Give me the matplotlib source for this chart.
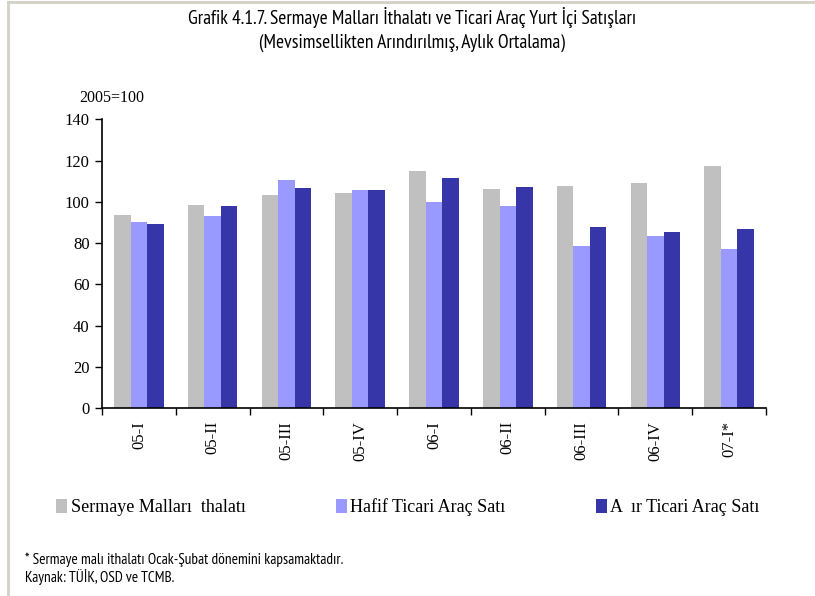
import matplotlib
matplotlib.use("Agg")
import matplotlib.pyplot as plt
from matplotlib import font_manager as fm
from matplotlib.patches import Patch
from matplotlib.lines import Line2D
import numpy as np

categories = ["05-I", "05-II", "05-III", "05-IV", "06-I", "06-II", "06-III", "06-IV", "07-I*"]
sermaye = [93.6, 98.5, 103.3, 104.3, 115.0, 106.3, 107.7, 109.2, 117.4]
hafif = [90.3, 93.2, 110.6, 105.8, 100.0, 98.0, 78.6, 83.5, 77.1]
agir = [89.3, 98.0, 106.7, 105.8, 111.6, 107.2, 87.8, 85.4, 86.9]
series_names = ["Sermaye Malları  thalatı", "Hafif Ticari Araç Satı", "A  ır Ticari Araç Satı"]
colors = ["#c0c0c0", "#9999ff", "#3636a8"]
yticks = [0, 20, 40, 60, 80, 100, 120, 140]

names = {f.name for f in fm.fontManager.ttflist}
narrow = "Liberation Sans"
for cand in ["Liberation Sans Narrow", "Arial Narrow", "PT Sans Narrow", "Archivo Narrow",
             "Roboto Condensed", "Asap Condensed"]:
    if cand in names:
        narrow = cand
        break
serif = "Liberation Serif"

fig = plt.figure(figsize=(8.15, 5.96), dpi=100)
ax = fig.add_axes([102/815, 1-408.3/596, (766-102)/815, (408.3-119.3)/596])

x = np.arange(len(categories))
w = 0.224
for i, (vals, c) in enumerate(zip([sermaye, hafif, agir], colors)):
    ax.bar(x + (i-1)*w, vals, width=w, color=c, edgecolor="none", label=series_names[i])

ax.set_xlim(-0.5, len(categories)-0.5)
ax.set_ylim(0, 140)
ax.set_yticks(yticks)
ax.set_yticklabels([str(t) for t in yticks], fontfamily=serif, fontsize=12)
ax.set_xticks(np.arange(-0.5, len(categories), 1.0))
ax.set_xticklabels([])
ax.set_xticks(x, minor=True)
ax.set_xticklabels(categories, minor=True, rotation=90, fontfamily=serif, fontsize=12, va="top")
ax.tick_params(axis="x", which="minor", length=0, pad=9)
ax.tick_params(axis="x", which="major", length=5, direction="out", width=1)
ax.tick_params(axis="y", length=5, direction="out", width=1, pad=4)
for s in ["top", "right"]:
    ax.spines[s].set_visible(False)
for s in ["left", "bottom"]:
    ax.spines[s].set_linewidth(1.2)

fig.text(112/815, 1-98/596, "2005=100", fontfamily=serif, fontsize=11.5, ha="center", va="center")

fig.text(412/815, 1-17/596, "Grafik 4.1.7. Sermaye Malları İthalatı ve Ticari Araç Yurt İçi Satışları",
         fontfamily=narrow, fontsize=14, ha="center", va="center")
fig.text(412/815, 1-43/596, "(Mevsimsellikten Arındırılmış, Aylık Ortalama)",
         fontfamily=narrow, fontsize=14, ha="center", va="center")

handles = [Patch(facecolor=c, edgecolor="none") for c in colors]
fig.legend(handles, series_names, loc="center", bbox_to_anchor=(408/815, 1-507/596), ncol=3,
           frameon=False, prop={"family": serif, "size": 13}, handlelength=0.6, handleheight=0.8,
           handletextpad=0.2, columnspacing=5.0)

fig.text(25/815, 1-560/596, "* Sermaye malı ithalatı Ocak-Şubat dönemini kapsamaktadır.",
         fontfamily=narrow, fontsize=11, ha="left", va="center")
fig.text(25/815, 1-577/596, "Kaynak: TÜİK, OSD ve TCMB.",
         fontfamily=narrow, fontsize=11, ha="left", va="center")

bc = "#d4d0c8"
fig.add_artist(Line2D([8/815, 1], [1-2/596, 1-2/596], color=bc, lw=2, transform=fig.transFigure))
fig.add_artist(Line2D([8/815, 8/815], [0, 1-2/596], color=bc, lw=2, transform=fig.transFigure))

fig.savefig("out.png", dpi=100)
